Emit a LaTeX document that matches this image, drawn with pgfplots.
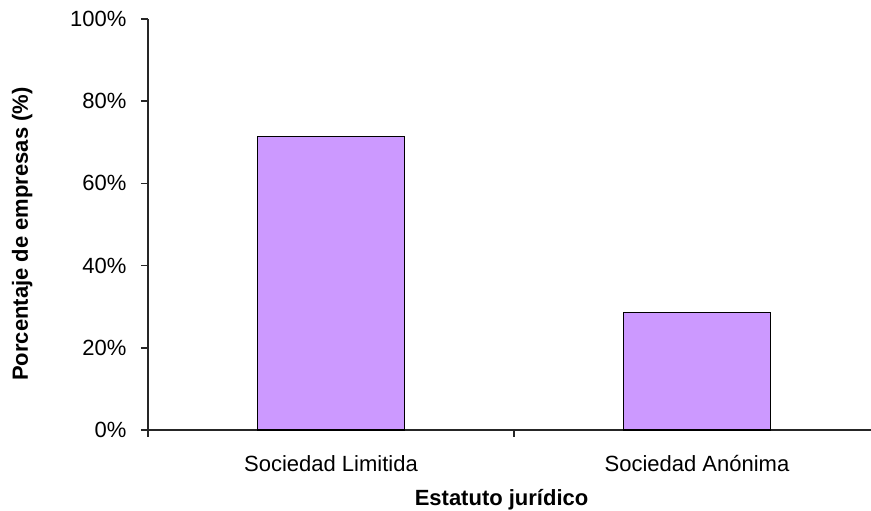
\documentclass[border=0pt]{standalone}
\usepackage{pgfplots}
\pgfplotsset{compat=1.18}
\usepackage{fontspec}
\setmainfont{Liberation Sans}
\definecolor{barfill}{HTML}{CC99FF}
\begin{document}
\begin{tikzpicture}[x=1pt,y=1pt]
\useasboundingbox (0,0) rectangle (871,511);
\begin{axis}[
  at={(148pt,81pt)}, anchor=south west,
  scale only axis, width=732pt, height=411pt,
  xmin=0, xmax=2, ymin=0, ymax=100,
  axis x line=bottom, axis y line=left,
  axis line style={-, line width=1.5pt, black!85},
  ybar, bar width=147pt,
  xtick={0,1,2},
  xticklabels={},
  extra x ticks={0.5,1.5},
  extra x tick labels={Sociedad Limitida, Sociedad Anónima},
  extra x tick style={major tick length=0pt, xticklabel style={yshift=-22pt}},
  ytick={0,20,40,60,80,100},
  yticklabels={0\%,20\%,40\%,60\%,80\%,100\%},
  tick align=outside,
  major tick length=7pt,
  tick style={line width=1.5pt, black!85},
  tick label style={font=\fontsize{22}{26}\selectfont},
  yticklabel style={xshift=-11pt},
  xlabel={\textbf{Estatuto jurídico}},
  ylabel={\textbf{Porcentaje de empresas (\%)}},
  label style={font=\fontsize{22}{26}\selectfont},
  xlabel style={at={(axis description cs:0.483,-0.170)}, anchor=center},
  ylabel style={at={(axis description cs:-0.172,0.477)}, anchor=center},
  clip=false,
]
\addplot[fill=barfill, draw=black, line width=1.4pt] coordinates {(0.5,71.4) (1.5,28.6)};
\end{axis}
\end{tikzpicture}
\end{document}
